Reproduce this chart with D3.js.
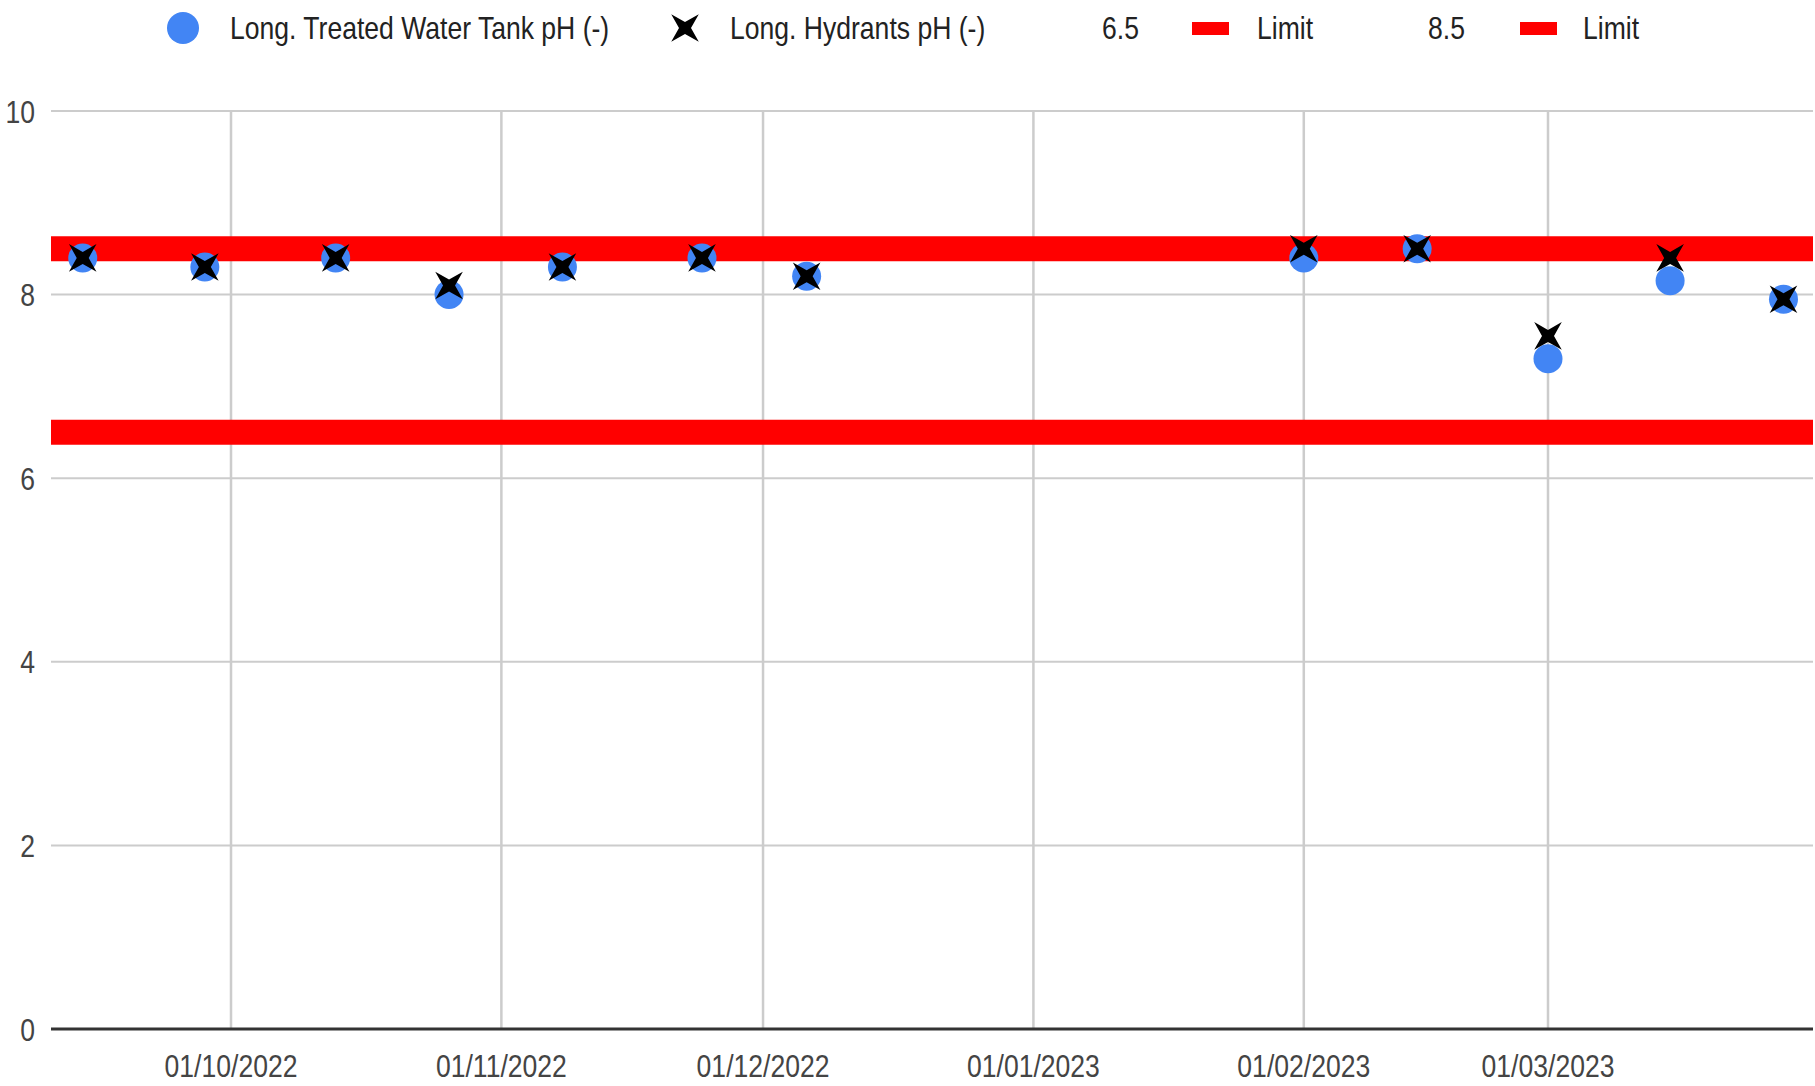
<!DOCTYPE html>
<html><head><meta charset="utf-8">
<script src="https://cdn.jsdelivr.net/npm/d3@7"></script>
<style>body{margin:0;background:#fff;overflow:hidden}</style>
</head><body>
<script>
// ---- data ----
const sampleDates = ["2022-09-14","2022-09-28","2022-10-13","2022-10-26","2022-11-08","2022-11-24","2022-12-06","2023-02-01","2023-02-14","2023-03-01","2023-03-15","2023-03-28"];
const tankPH      = [8.4, 8.3, 8.4, 8.0, 8.3, 8.4, 8.2, 8.4, 8.5, 7.3, 8.15, 7.95];
const hydrantsPH  = [8.4, 8.3, 8.4, 8.1, 8.3, 8.4, 8.2, 8.5, 8.5, 7.55, 8.4, 7.95];
const limitValues = [6.5, 8.5];
const xTickDates  = ["2022-10-01","2022-11-01","2022-12-01","2023-01-01","2023-02-01","2023-03-01"];
const yTickValues = [0, 2, 4, 6, 8, 10];
const seriesNames = ["Long. Treated Water Tank pH (-)", "Long. Hydrants pH (-)"];
const limitLegendLabels = ["6.5", "8.5"];
const limitName = "Limit";

(function () {
const W = 1815, H = 1086;
const FONT = "'Liberation Sans',Arial,sans-serif";
const SX = 0.83; // narrow look
const FS = 32;
const parse = d3.timeParse("%Y-%m-%d");
const fmt = d3.timeFormat("%d/%m/%Y");

const pL = 51, pR = 1813, pT = 111, pB = 1029;
const anchor = d3.scaleTime().domain([parse("2022-10-01"), parse("2023-03-01")]).range([231, 1548]);
const x = d3.scaleTime().domain([anchor.invert(pL), anchor.invert(pR)]).range([pL, pR]);
const y = d3.scaleLinear().domain([0, 10]).range([pB, pT]);

const svg = d3.select("body").append("svg").attr("width", W).attr("height", H)
  .style("font-family", FONT);

function narrowText(parent, tx, ty, str, anchorPos, fill, dy) {
  parent.append("g").attr("transform", `translate(${tx},${ty}) scale(${SX},1)`)
    .append("text").attr("text-anchor", anchorPos || "start")
    .attr("dy", dy || 0)
    .attr("font-size", FS).attr("fill", fill).text(str);
}

// horizontal gridlines
svg.append("g").selectAll("line").data(yTickValues.filter(v => v !== 0)).join("line")
  .attr("x1", pL).attr("x2", pR).attr("y1", d => y(d)).attr("y2", d => y(d))
  .attr("stroke", "#cccccc").attr("stroke-width", 2);
// vertical gridlines
svg.append("g").selectAll("line").data(xTickDates.map(parse)).join("line")
  .attr("x1", d => x(d)).attr("x2", d => x(d)).attr("y1", pT).attr("y2", pB)
  .attr("stroke", "#cccccc").attr("stroke-width", 2.5);

// y labels
const yl = svg.append("g");
yTickValues.forEach(v => narrowText(yl, 35, y(v), String(v), "end", "#444", "0.36em"));

// x labels
const xl = svg.append("g");
xTickDates.map(parse).forEach(d => narrowText(xl, x(d), 1077, fmt(d), "middle", "#444"));

// limit bands
svg.append("g").selectAll("line").data(limitValues).join("line")
  .attr("x1", pL).attr("x2", pR).attr("y1", d => y(d)).attr("y2", d => y(d))
  .attr("stroke", "#ff0000").attr("stroke-width", 25);

// baseline
svg.append("line").attr("x1", pL).attr("x2", pR).attr("y1", y(0)).attr("y2", y(0))
  .attr("stroke", "#333").attr("stroke-width", 3);

// star X path
function starX(R, r) {
  const pts = [];
  for (let i = 0; i < 8; i++) {
    const a = Math.PI / 4 + i * Math.PI / 4;
    const rad = i % 2 === 0 ? R : r;
    pts.push([rad * Math.cos(a), rad * Math.sin(a)]);
  }
  return "M" + pts.map(p => p.join(",")).join("L") + "Z";
}
const xPath = starX(19.5, 6);

const data = sampleDates.map((d, i) => ({date: parse(d), tank: tankPH[i], hyd: hydrantsPH[i]}));

svg.append("g").selectAll("circle").data(data).join("circle")
  .attr("cx", d => x(d.date)).attr("cy", d => y(d.tank)).attr("r", 14.5)
  .attr("fill", "#4285f4");
svg.append("g").selectAll("path").data(data).join("path")
  .attr("transform", d => `translate(${x(d.date)},${y(d.hyd)})`)
  .attr("d", xPath).attr("fill", "#000");

// legend
const lg = svg.append("g");
lg.append("circle").attr("cx", 183).attr("cy", 28).attr("r", 16).attr("fill", "#4285f4");
narrowText(lg, 230, 39, seriesNames[0], "start", "#222");
lg.append("path").attr("transform", "translate(685,28)").attr("d", xPath).attr("fill", "#000");
narrowText(lg, 730, 39, seriesNames[1], "start", "#222");
const limX = [[1102, 1192, 1257], [1428, 1520, 1583]];
limitLegendLabels.forEach((lab, i) => {
  narrowText(lg, limX[i][0], 39, lab, "start", "#222");
  lg.append("rect").attr("x", limX[i][1]).attr("y", 22).attr("width", 37).attr("height", 13).attr("fill", "#ff0000");
  narrowText(lg, limX[i][2], 39, limitName, "start", "#222");
});
})();
</script>
</body></html>
